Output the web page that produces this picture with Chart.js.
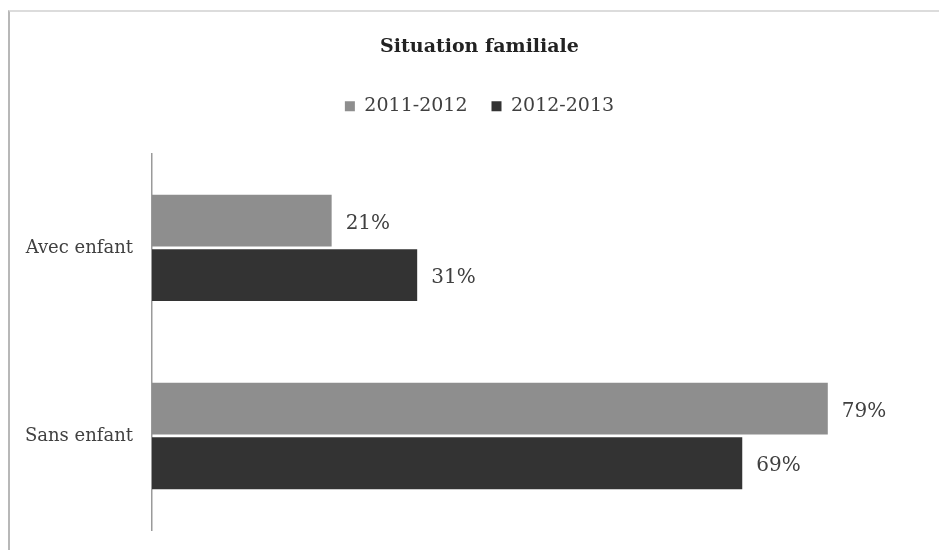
<!DOCTYPE html>
<html>
<head>
<meta charset="utf-8">
<script src="https://cdn.jsdelivr.net/npm/chart.js@4/dist/chart.umd.min.js"></script>
<style>
  html, body { margin: 0; background: #fff; overflow: hidden; }
  #frame { position: absolute; left: 8px; top: 10px; width: 929px; height: 538px;
           border-top: 2px solid #dcdcdc; border-left: 2px solid #b8b8b8; }
  #box { position: absolute; left: 0; top: 0; width: 939px; height: 550px; }
</style>
</head>
<body>
<div id="frame"></div>
<div id="box"><canvas id="chart"></canvas></div>
<script>
const categories = ['Avec enfant', 'Sans enfant'];
const seriesNames = ['2011-2012', '2012-2013'];
const values2011 = [21, 79];
const values2012 = [31, 69];

const serif = "'DejaVu Serif', serif";

// étiquettes de valeur au bout des barres
const valueLabels = {
    id: 'valueLabels',
    afterDatasetsDraw(chart) {
        const ctx = chart.ctx;
        ctx.save();
        ctx.font = '20px ' + serif;
        ctx.fillStyle = '#404040';
        ctx.textBaseline = 'middle';
        chart.data.datasets.forEach((ds, i) => {
            chart.getDatasetMeta(i).data.forEach((bar, j) => {
                ctx.fillText(ds.data[j] + '%', bar.x + 14, bar.y + 3);
            });
        });
        ctx.restore();
    }
};

// espace supplémentaire sous la légende
const legendGap = {
    id: 'legendGap',
    beforeInit(chart) {
        const fit = chart.legend.fit;
        chart.legend.fit = function () {
            fit.bind(chart.legend)();
            this.height += 28;
        };
    }
};

new Chart(document.getElementById('chart'), {
    type: 'bar',
    data: {
        labels: categories,
        datasets: [{
            label: seriesNames[0],
            data: values2011,
            backgroundColor: '#8e8e8e',
            categoryPercentage: 0.58,
            barPercentage: 0.95
        }, {
            label: seriesNames[1],
            data: values2012,
            backgroundColor: '#333333',
            categoryPercentage: 0.58,
            barPercentage: 0.95
        }]
    },
    options: {
        indexAxis: 'y',
        responsive: true,
        maintainAspectRatio: false,
        animation: false,
        layout: { padding: { top: 0, right: 0, bottom: 20, left: 20 } },
        scales: {
            x: {
                display: false,
                min: 0,
                max: 92
            },
            y: {
                grid: { display: false, drawTicks: false },
                border: { display: true, color: '#9a9a9a', width: 1.5 },
                ticks: { padding: 19, color: '#404040', font: { family: serif, size: 18 } },
                afterFit: scale => {
                    scale.width = 132;
                    scale.paddingTop = 0;
                    scale.paddingBottom = 0;
                }
            }
        },
        plugins: {
            title: {
                display: true,
                text: 'Situation familiale',
                color: '#222',
                font: { family: serif, size: 19, weight: 'bold' },
                padding: { top: 36, bottom: 14 }
            },
            legend: {
                labels: {
                    boxWidth: 10,
                    boxHeight: 10,
                    padding: 24,
                    color: '#404040',
                    font: { family: serif, size: 19 }
                }
            },
            tooltip: { enabled: false }
        }
    },
    plugins: [valueLabels, legendGap]
});
</script>
</body>
</html>
